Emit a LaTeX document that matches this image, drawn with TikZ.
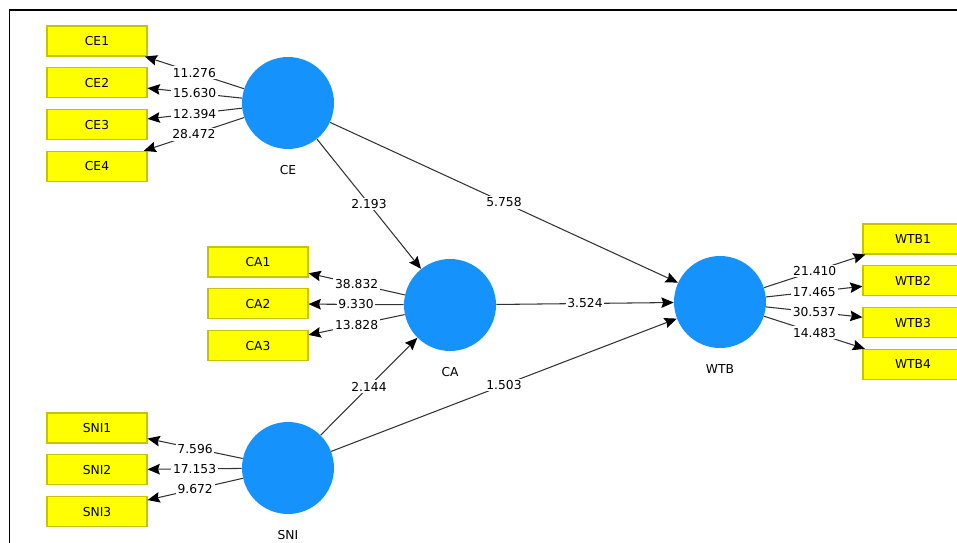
\documentclass[tikz,border=0pt]{standalone}
\usepackage{fontspec}
\setmainfont{DejaVu Sans}
\usetikzlibrary{positioning,arrows.meta}

\definecolor{plsblue}{RGB}{22,146,252}
\definecolor{boxline}{RGB}{196,196,0}
\definecolor{boxfill}{RGB}{255,255,0}

\begin{document}
\begin{tikzpicture}
  [x=0.02cm,y=-0.02cm,
   latentN/.style={circle,fill=plsblue,minimum size=1.84cm,inner sep=0pt},
   itemN/.style={draw=boxline,fill=boxfill,line width=0.6pt,minimum width=2cm,
                 minimum height=0.6cm,inner sep=0pt,font=\fontsize{7}{8}\selectfont},
   nameN/.style={font=\fontsize{7}{8}\selectfont,label distance=5.5pt},
   valN/.style={fill=white,inner sep=1pt,font=\fontsize{7}{8}\selectfont},
   pathA/.style={draw=black!80,line width=0.6pt,
                 -{Stealth[color=black,length=7pt,width=6pt,inset=1pt]}},
   node distance=0.215cm]

  \useasboundingbox (0,0) rectangle (957,543);
  \draw[line width=1.1pt] (9.5,543) -- (9.5,10) -- (957,10);

  % latent variables
  \node[latentN] (CE)  at (288,103) [label={[nameN]below:CE}]  {};
  \node[latentN] (CA)  at (450,305) [label={[nameN]below:CA}]  {};
  \node[latentN] (SNI) at (288,468) [label={[nameN]below:SNI}] {};
  \node[latentN] (WTB) at (720,302) [label={[nameN]below:WTB}] {};

  % indicators
  \node[itemN] (CE1) at (97,41)      {CE1};
  \node[itemN] (CE2) [below=of CE1]  {CE2};
  \node[itemN] (CE3) [below=of CE2]  {CE3};
  \node[itemN] (CE4) [below=of CE3]  {CE4};

  \node[itemN] (CA1) at (258,262)    {CA1};
  \node[itemN] (CA2) [below=of CA1]  {CA2};
  \node[itemN] (CA3) [below=of CA2]  {CA3};

  \node[itemN] (SNI1) at (97,428)     {SNI1};
  \node[itemN] (SNI2) [below=of SNI1] {SNI2};
  \node[itemN] (SNI3) [below=of SNI2] {SNI3};

  \node[itemN] (WTB1) at (913,239)    {WTB1};
  \node[itemN] (WTB2) [below=of WTB1] {WTB2};
  \node[itemN] (WTB3) [below=of WTB2] {WTB3};
  \node[itemN] (WTB4) [below=of WTB3] {WTB4};

  % outer model
  \draw[pathA] (CE) -- node[valN] {11.276} (CE1);
  \draw[pathA] (CE) -- node[valN] {15.630} (CE2);
  \draw[pathA] (CE) -- node[valN] {12.394} (CE3);
  \draw[pathA] (CE) -- node[valN] {28.472} (CE4);

  \draw[pathA] (CA) -- node[valN] {38.832} (CA1);
  \draw[pathA] (CA) -- node[valN] {9.330}  (CA2);
  \draw[pathA] (CA) -- node[valN] {13.828} (CA3);

  \draw[pathA] (SNI) -- node[valN] {7.596}  (SNI1);
  \draw[pathA] (SNI) -- node[valN] {17.153} (SNI2);
  \draw[pathA] (SNI) -- node[valN] {9.672}  (SNI3);

  \draw[pathA] (WTB) -- node[valN] {21.410} (WTB1);
  \draw[pathA] (WTB) -- node[valN] {17.465} (WTB2);
  \draw[pathA] (WTB) -- node[valN] {30.537} (WTB3);
  \draw[pathA] (WTB) -- node[valN] {14.483} (WTB4);

  % inner model
  \draw[pathA] (CE)  -- node[valN] {2.193} (CA);
  \draw[pathA] (CE)  -- node[valN] {5.758} (WTB);
  \draw[pathA] (CA)  -- node[valN] {3.524} (WTB);
  \draw[pathA] (SNI) -- node[valN] {2.144} (CA);
  \draw[pathA] (SNI) -- node[valN] {1.503} (WTB);

\end{tikzpicture}
\end{document}
